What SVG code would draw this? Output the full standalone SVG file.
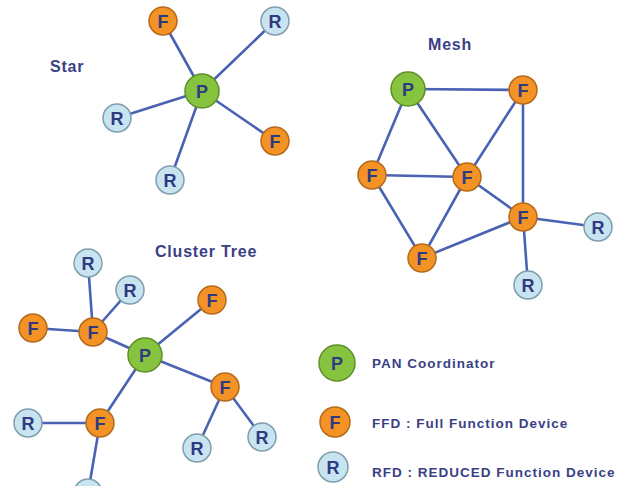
<svg xmlns="http://www.w3.org/2000/svg" width="627" height="486" viewBox="0 0 627 486">
<style>
.bg{fill:#ffffff}
.e line{stroke:#4a62b4;stroke-width:2.6;stroke-linecap:round}
.p{fill:#86c440;stroke:#5f8f2a;stroke-width:1.5}
.f{fill:#f39325;stroke:#b56a1a;stroke-width:1.5}
.r{fill:#c8e4f0;stroke:#7f9eae;stroke-width:1.5}
.t{font-family:"Liberation Sans",Arial,sans-serif;font-weight:bold;fill:#2f3a80;text-anchor:middle;font-size:18px}
.lbl{font-family:"Liberation Sans",Arial,sans-serif;font-weight:bold;fill:#3a3f86;font-size:16px;letter-spacing:0.8px}
.leg{font-family:"Liberation Sans",Arial,sans-serif;font-weight:bold;fill:#3a3f86;font-size:13.5px;letter-spacing:1px}
</style>
<rect class="bg" x="0" y="0" width="627" height="486"/>
<g id="connectors" class="e">
<line x1="202" y1="91" x2="163" y2="21"/>
<line x1="202" y1="91" x2="275" y2="21"/>
<line x1="202" y1="91" x2="117" y2="118"/>
<line x1="202" y1="91" x2="275" y2="141"/>
<line x1="202" y1="91" x2="170" y2="180"/>
<line x1="408" y1="89" x2="523" y2="90"/>
<line x1="408" y1="89" x2="372" y2="175"/>
<line x1="408" y1="89" x2="467" y2="177"/>
<line x1="523" y1="90" x2="467" y2="177"/>
<line x1="523" y1="90" x2="523" y2="217"/>
<line x1="372" y1="175" x2="467" y2="177"/>
<line x1="372" y1="175" x2="422" y2="258"/>
<line x1="467" y1="177" x2="422" y2="258"/>
<line x1="467" y1="177" x2="523" y2="217"/>
<line x1="523" y1="217" x2="422" y2="258"/>
<line x1="523" y1="217" x2="598" y2="227"/>
<line x1="523" y1="217" x2="528" y2="285"/>
<line x1="88" y1="263" x2="93" y2="332"/>
<line x1="130" y1="290" x2="93" y2="332"/>
<line x1="33" y1="328" x2="93" y2="332"/>
<line x1="93" y1="332" x2="145" y2="355"/>
<line x1="145" y1="355" x2="212" y2="300"/>
<line x1="145" y1="355" x2="225" y2="387"/>
<line x1="225" y1="387" x2="197" y2="448"/>
<line x1="225" y1="387" x2="262" y2="437"/>
<line x1="145" y1="355" x2="100" y2="423"/>
<line x1="28" y1="423" x2="100" y2="423"/>
<line x1="100" y1="423" x2="88" y2="493"/>
</g>
<text class="lbl" x="50" y="72">Star</text>
<text class="lbl" x="428" y="50">Mesh</text>
<text class="lbl" x="155" y="257">Cluster Tree</text>
<g id="star-p"><circle class="p" cx="202" cy="91" r="17"/><text class="t" x="202" y="97.5">P</text></g>
<g id="star-f1"><circle class="f" cx="163" cy="21" r="14"/><text class="t" x="163" y="27.5">F</text></g>
<g id="star-r1"><circle class="r" cx="275" cy="21" r="14"/><text class="t" x="275" y="27.5">R</text></g>
<g id="star-r2"><circle class="r" cx="117" cy="118" r="14"/><text class="t" x="117" y="124.5">R</text></g>
<g id="star-f2"><circle class="f" cx="275" cy="141" r="14"/><text class="t" x="275" y="147.5">F</text></g>
<g id="star-r3"><circle class="r" cx="170" cy="180" r="14"/><text class="t" x="170" y="186.5">R</text></g>
<g id="mesh-p"><circle class="p" cx="408" cy="89" r="17"/><text class="t" x="408" y="95.5">P</text></g>
<g id="mesh-f1"><circle class="f" cx="523" cy="90" r="14"/><text class="t" x="523" y="96.5">F</text></g>
<g id="mesh-f2"><circle class="f" cx="372" cy="175" r="14"/><text class="t" x="372" y="181.5">F</text></g>
<g id="mesh-f3"><circle class="f" cx="467" cy="177" r="14"/><text class="t" x="467" y="183.5">F</text></g>
<g id="mesh-f4"><circle class="f" cx="523" cy="217" r="14"/><text class="t" x="523" y="223.5">F</text></g>
<g id="mesh-f5"><circle class="f" cx="422" cy="258" r="14"/><text class="t" x="422" y="264.5">F</text></g>
<g id="mesh-r1"><circle class="r" cx="598" cy="227" r="14"/><text class="t" x="598" y="233.5">R</text></g>
<g id="mesh-r2"><circle class="r" cx="528" cy="285" r="14"/><text class="t" x="528" y="291.5">R</text></g>
<g id="tree-p"><circle class="p" cx="145" cy="355" r="17"/><text class="t" x="145" y="361.5">P</text></g>
<g id="tree-r1"><circle class="r" cx="88" cy="263" r="14"/><text class="t" x="88" y="269.5">R</text></g>
<g id="tree-r2"><circle class="r" cx="130" cy="290" r="14"/><text class="t" x="130" y="296.5">R</text></g>
<g id="tree-f1"><circle class="f" cx="33" cy="328" r="14"/><text class="t" x="33" y="334.5">F</text></g>
<g id="tree-f2"><circle class="f" cx="93" cy="332" r="14"/><text class="t" x="93" y="338.5">F</text></g>
<g id="tree-f3"><circle class="f" cx="212" cy="300" r="14"/><text class="t" x="212" y="306.5">F</text></g>
<g id="tree-f4"><circle class="f" cx="225" cy="387" r="14"/><text class="t" x="225" y="393.5">F</text></g>
<g id="tree-r3"><circle class="r" cx="197" cy="448" r="14"/><text class="t" x="197" y="454.5">R</text></g>
<g id="tree-r4"><circle class="r" cx="262" cy="437" r="14"/><text class="t" x="262" y="443.5">R</text></g>
<g id="tree-r5"><circle class="r" cx="28" cy="423" r="14"/><text class="t" x="28" y="429.5">R</text></g>
<g id="tree-f5"><circle class="f" cx="100" cy="423" r="14"/><text class="t" x="100" y="429.5">F</text></g>
<g id="tree-r6"><circle class="r" cx="88" cy="493" r="14"/><text class="t" x="88" y="499.5">R</text></g>
<g id="legend-p"><circle class="p" cx="337" cy="363" r="18"/><text class="t" x="337" y="369.5">P</text><text class="leg" x="372" y="368">PAN Coordinator</text></g>
<g id="legend-f"><circle class="f" cx="335" cy="422" r="15"/><text class="t" x="335" y="428.5">F</text><text class="leg" x="372" y="428">FFD : Full Function Device</text></g>
<g id="legend-r"><circle class="r" cx="333" cy="467" r="15"/><text class="t" x="333" y="473.5">R</text><text class="leg" x="372" y="477">RFD : REDUCED Function Device</text></g>
</svg>
